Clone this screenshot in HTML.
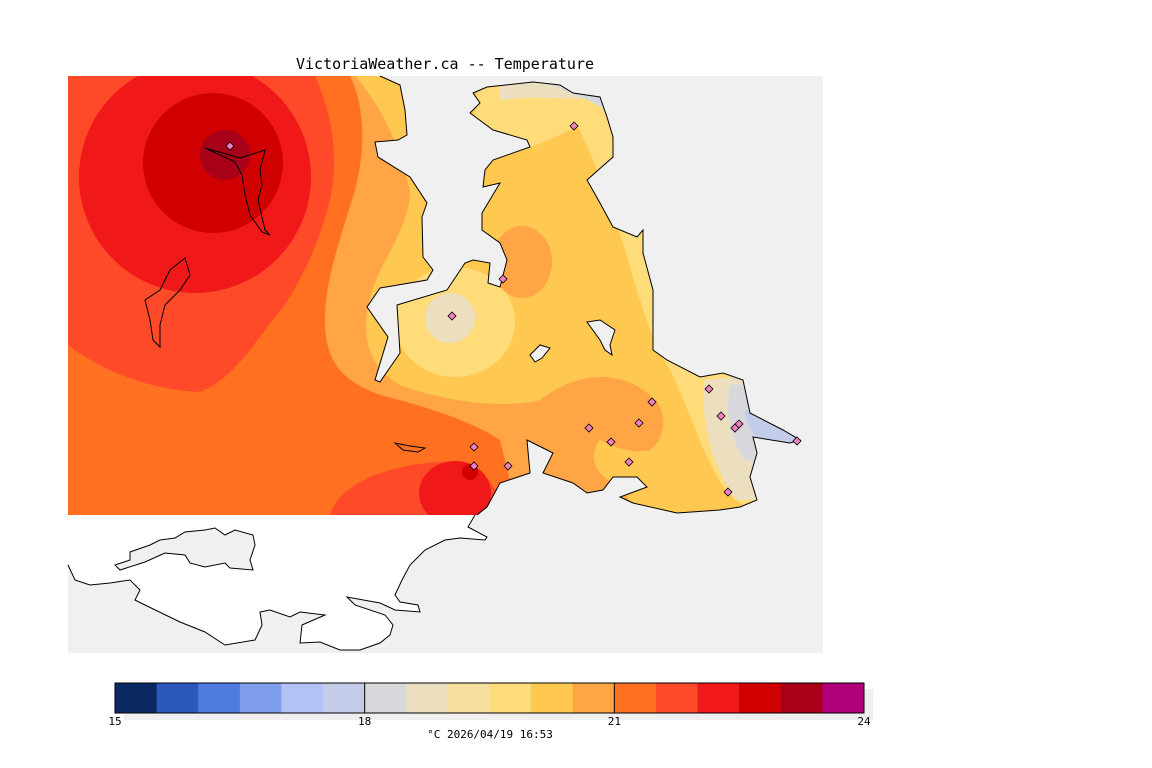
<!DOCTYPE html>
<html><head><meta charset="utf-8"><style>
html,body{margin:0;padding:0;background:#fff;}
svg{display:block;font-family:"DejaVu Sans Mono","Liberation Mono",monospace;}
</style></head><body>
<svg width="1152" height="768" viewBox="0 0 1152 768">
<text x="445" y="69" text-anchor="middle" font-size="15" fill="#000" font-family="DejaVu Sans Mono, monospace">VictoriaWeather.ca -- Temperature</text>
<defs>
<clipPath id="cl"><path id="colpath" d="M68,76 L380,76 L400,85 L405,110 L407,135 L398,140 L375,142 L378,157 L410,177 L427,203 L422,217 L423,257 L433,270 L427,280 L380,288 L367,307 L388,337 L375,380 L380,382 L400,353 L397,305 L447,290 L465,263 L473,260 L490,263 L488,283 L500,287 L507,260 L500,243 L482,230 L482,213 L500,183 L483,187 L485,170 L493,160 L530,147 L527,140 L493,130 L470,113 L480,103 L473,93 L487,87 L533,82 L560,85 L573,93 L600,97 L607,117 L613,137 L613,157 L587,180 L600,203 L613,227 L637,237 L643,230 L643,253 L653,290 L653,350 L667,360 L700,377 L723,373 L743,380 L750,413 L783,430 L800,440 L790,443 L753,437 L757,453 L750,477 L757,500 L740,507 L720,510 L677,513 L633,503 L620,497 L647,487 L637,477 L613,477 L603,490 L587,493 L573,483 L543,473 L553,453 L527,440 L530,473 L500,483 L487,507 L477,515 L68,515 Z"/></clipPath>
</defs>
<rect x="68" y="76" width="755" height="577" fill="#f0f0f0"/>
<g clip-path="url(#cl)">
<rect x="68" y="76" width="755" height="450" fill="#ffc850"/>
<path d="M480,76 L620,76 L615,110 C590,115 560,140 520,150 L470,150 Z" fill="#ffdc7a"/>
<path d="M500,76 L640,76 L620,100 C580,100 540,95 500,100 Z" fill="#ebdfc0"/>
<path d="M540,76 L640,76 L610,112 C590,100 570,92 540,80 Z" fill="#d7d8dc"/>
<path d="M570,110 C590,150 610,200 625,250 C640,300 650,340 670,370 C690,410 700,450 725,490 L760,520 L800,520 L800,360 L660,110 Z" fill="#ffdc7a"/>
<path d="M705,380 C700,420 710,460 735,500 L800,500 L800,370 Z" fill="#ebdfc0"/>
<path d="M730,385 C725,410 730,440 745,460 L800,470 L800,380 Z" fill="#d7d8dc"/>
<path d="M745,410 C745,425 755,440 770,445 L805,450 L805,420 L770,410 Z" fill="#c3cdea"/>
<ellipse cx="455" cy="322" rx="60" ry="55" fill="#ffdc7a"/>
<ellipse cx="450" cy="318" rx="25" ry="25" fill="#ebdfc0"/>
<ellipse cx="522" cy="262" rx="30" ry="36" fill="#ffa545"/>
<path d="M68,76 L355,76 C385,110 400,150 410,190 C410,225 385,255 372,290 C360,330 365,365 400,385 C440,400 500,410 540,400 C580,370 620,370 650,395 C670,410 665,440 650,450 C630,455 610,445 600,440 C585,460 600,480 620,485 L640,520 L68,520 Z" fill="#ffa545"/>
<path d="M68,76 L350,76 C362,100 368,140 355,190 C340,240 325,280 325,320 C325,360 340,380 380,395 C420,405 470,420 500,440 L520,520 L68,520 Z" fill="#ff7020"/>
<path d="M68,76 L315,76 C330,110 340,150 330,200 C320,240 300,290 268,326 C250,350 230,380 200,392 C150,390 100,370 68,345 Z" fill="#ff4a2a"/>
<circle cx="195" cy="177" r="116" fill="#f01818"/>
<circle cx="213" cy="163" r="70" fill="#d00000"/>
<circle cx="225" cy="155" r="25" fill="#a80018"/>
<path d="M330,520 C330,490 380,465 440,462 C480,462 500,480 500,520 Z" fill="#ff4a2a"/>
<ellipse cx="455" cy="493" rx="36" ry="32" fill="#f01818"/>
<ellipse cx="470" cy="472" rx="8" ry="8" fill="#d00000"/>
</g>
<path d="M380,76 L400,85 L405,110 L407,135 L398,140 L375,142 L378,157 L410,177 L427,203 L422,217 L423,257 L433,270 L427,280 L380,288 L367,307 L388,337 L375,380 L380,382 L400,353 L397,305 L447,290 L465,263 L473,260 L490,263 L488,283 L500,287 L507,260 L500,243 L482,230 L482,213 L500,183 L483,187 L485,170 L493,160 L530,147 L527,140 L493,130 L470,113 L480,103 L473,93 L487,87 L533,82 L560,85 L573,93 L600,97 L607,117 L613,137 L613,157 L587,180 L600,203 L613,227 L637,237 L643,230 L643,253 L653,290 L653,350 L667,360 L700,377 L723,373 L743,380 L750,413 L783,430 L800,440 L790,443 L753,437 L757,453 L750,477 L757,500 L740,507 L720,510 L677,513 L633,503 L620,497 L647,487 L637,477 L613,477 L603,490 L587,493 L573,483 L543,473 L553,453 L527,440 L530,473 L500,483 L487,507 L477,515" fill="none" stroke="#000" stroke-width="1"/>
<path d="M68,515 L475,515 L468,527 L487,537 L485,540 L460,538 L445,540 L425,550 L410,565 L402,580 L395,595 L400,602 L418,605 L420,612 L395,610 L380,603 L347,597 L355,605 L385,615 L393,625 L390,635 L380,643 L360,650 L340,650 L320,642 L300,643 L302,625 L325,615 L300,612 L290,617 L270,610 L260,612 L262,625 L255,640 L225,645 L205,632 L180,622 L145,605 L135,600 L140,590 L130,580 L110,583 L90,585 L75,580 L68,565 Z" fill="#fff" stroke="none"/>
<path d="M475,515 L468,527 L487,537 L485,540 L460,538 L445,540 L425,550 L410,565 L402,580 L395,595 L400,602 L418,605 L420,612 L395,610 L380,603 L347,597 L355,605 L385,615 L393,625 L390,635 L380,643 L360,650 L340,650 L320,642 L300,643 L302,625 L325,615 L300,612 L290,617 L270,610 L260,612 L262,625 L255,640 L225,645 L205,632 L180,622 L145,605 L135,600 L140,590 L130,580 L110,583 L90,585 L75,580 L68,565" fill="none" stroke="#000" stroke-width="1"/>
<path d="M120,570 L115,565 L130,560 L130,552 L150,545 L160,540 L175,538 L185,532 L205,530 L215,528 L225,535 L235,530 L253,535 L255,545 L250,560 L253,570 L230,568 L225,563 L205,567 L190,563 L185,555 L165,553 L145,562 Z" fill="#f0f0f0" stroke="#000" stroke-width="1"/>
<path d="M205,148 L240,158 L265,150 L260,170 L262,185 L258,200 L265,230 L270,235 L262,232 L250,215 L245,195 L242,175 L235,162 Z" fill="none" stroke="#000"/>
<path d="M185,258 L170,270 L160,290 L145,300 L150,320 L153,340 L160,347 L160,325 L165,305 L180,290 L190,275 Z" fill="none" stroke="#000"/>
<path d="M395,443 L410,446 L425,448 L418,452 L403,450 Z" fill="none" stroke="#000"/>
<path d="M587,322 L600,320 L615,330 L610,345 L612,355 L605,350 L600,340 Z" fill="#f0f0f0" stroke="#000"/>
<path d="M530,355 L540,345 L550,348 L542,358 L535,362 Z" fill="#f0f0f0" stroke="#000"/>
<g id="markers"></g>
<g id="cbar"></g>
<text x="490" y="738" text-anchor="middle" font-size="11" fill="#000">°C  2026/04/19 16:53</text>
</svg>
<script>
const stationX=[230,574,503,452,652,639,709,721,735,739,797,589,611,629,728,474,474,508];
const stationY=[146,126,279,316,402,423,389,416,428,424,441,428,442,462,492,447,466,466];
const binColors=["#0b2a64","#2a58bc","#4f7ae0","#7f9fee","#b3c3f5","#c3cdea","#d7d8dc","#ebdfc0","#f6dea0","#ffdc7a","#ffc850","#ffa545","#ff7020","#ff4a2a","#f01818","#d00000","#a80018","#b0007a"];
const tickVals=[15,18,21,24];
const NS="http://www.w3.org/2000/svg";
const mk=document.getElementById('markers');
for(let i=0;i<stationX.length;i++){
  const p=document.createElementNS(NS,'path');
  const x=stationX[i],y=stationY[i];
  p.setAttribute('d',`M${x},${y-4}L${x+4},${y}L${x},${y+4}L${x-4},${y}Z`);
  p.setAttribute('fill','#f080c0');p.setAttribute('stroke','#000');p.setAttribute('stroke-width','0.8');
  
  
  mk.appendChild(p);
}
const cb=document.getElementById('cbar');
const x0=115,x1=864,y0=683,h=30,vmin=15,vmax=24;
const sx=v=>x0+(v-vmin)/(vmax-vmin)*(x1-x0);
const sh=document.createElementNS(NS,'rect');
sh.setAttribute('x',x0+9);sh.setAttribute('y',y0+6);sh.setAttribute('width',x1-x0);sh.setAttribute('height',h+1);sh.setAttribute('fill','#efefef');


cb.appendChild(sh);
const step=(vmax-vmin)/binColors.length;
binColors.forEach((c,i)=>{
  const r=document.createElementNS(NS,'rect');
  const a=sx(vmin+i*step),b=sx(vmin+(i+1)*step);
  r.setAttribute('x',a);r.setAttribute('y',y0);r.setAttribute('width',b-a+0.5);r.setAttribute('height',h);r.setAttribute('fill',c);
  
  
  cb.appendChild(r);
});
const fr=document.createElementNS(NS,'rect');
fr.setAttribute('x',x0);fr.setAttribute('y',y0);fr.setAttribute('width',x1-x0);fr.setAttribute('height',h);fr.setAttribute('fill','none');fr.setAttribute('stroke','#000');


cb.appendChild(fr);
tickVals.forEach(v=>{
  const l=document.createElementNS(NS,'line');
  l.setAttribute('x1',sx(v));l.setAttribute('x2',sx(v));l.setAttribute('y1',y0);l.setAttribute('y2',y0+h);l.setAttribute('stroke','#000');
  
  
  cb.appendChild(l);
  const t=document.createElementNS(NS,'text');
  t.setAttribute('x',sx(v));t.setAttribute('y',y0+h+12);t.setAttribute('text-anchor','middle');t.setAttribute('font-size','11');
  t.textContent=v;
  
  
  cb.appendChild(t);
});
</script>
</body></html>
